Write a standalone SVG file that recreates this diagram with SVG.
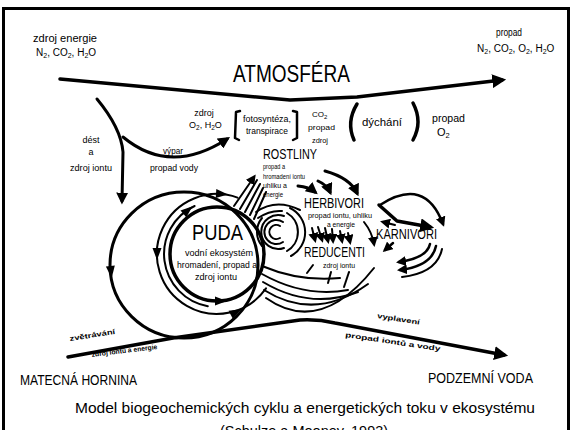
<svg xmlns="http://www.w3.org/2000/svg" width="572" height="430" viewBox="0 0 572 430">
<style>
text{font-family:"Liberation Sans",Arial,sans-serif;fill:#000}
.s7{font-size:7px;font-weight:bold}
.s8{font-size:8px}
.s9{font-size:9px}
.s10{font-size:10px}
.s11{font-size:11px}
.big{font-size:15px}
.lab{font-size:14px}
.ln{fill:none;stroke:#000;stroke-linecap:round;stroke-linejoin:round}
.w2{stroke-width:2}
.w25{stroke-width:2.5}
.w3{stroke-width:3}
.w4{stroke-width:3.5}
</style>
<defs>
<marker id="ah" viewBox="0 0 10 10" refX="7" refY="5" markerWidth="4" markerHeight="4" orient="auto" markerUnits="strokeWidth"><path d="M0,0 L10,5 L0,10 z"/></marker>
<marker id="ahs" viewBox="0 0 10 10" refX="7" refY="5" markerWidth="5" markerHeight="5" orient="auto" markerUnits="strokeWidth"><path d="M0,0 L10,5 L0,10 z"/></marker>
<path id="tri" d="M-6,-4.5 L6,0 L-6,4.5 z"/>
</defs>
<rect x="0" y="0" width="572" height="430" fill="#fff"/>
<rect x="3.5" y="8.5" width="565" height="445" fill="none" stroke="#000" stroke-width="3"/>

<g id="connectors">
  <!-- atmosphere boundary -->
  <path class="ln w4" d="M60,79 L290,100 L357,97 L502,80" marker-end="url(#ah)"/>
  <!-- rain -->
  <path class="ln w3" d="M97,99 Q121,128 123,152 L122,201" marker-end="url(#ah)"/>
  <!-- evaporation -->
  <path class="ln w3" d="M123,137 Q170,176 227,139" marker-end="url(#ah)"/>
  <!-- brackets -->
  <path class="ln w25" d="M240,111 L236,112 L235,138 L239,140"/>
  <path class="ln w25" d="M293,111 L297,112 L297,138 L293,140"/>
  <path class="ln w4" d="M357,104 Q346,122 354,140"/>
  <path class="ln w4" d="M413,103 Q423,122 413,140"/>
  <!-- soil loops -->
  <ellipse class="ln w3" cx="184" cy="265" rx="74" ry="73"/>
  <path class="ln w2" d="M237.5,197.6 A60,60 0 1 0 266,288.4"/>
  <path class="ln w2" d="M207.8,306.2 A53,53 0 0 1 194.6,206"/>
  <use href="#tri" transform="translate(111,272) rotate(84)"/>
  <use href="#tri" transform="translate(222,194) rotate(4)"/>
  <use href="#tri" transform="translate(236,312) rotate(-28)"/>
  <use href="#tri" transform="translate(157,254) rotate(90)"/>
  <use href="#tri" transform="translate(188,210) rotate(-40)"/>
  <use href="#tri" transform="translate(221,301) rotate(0)"/>
  <!-- swirl rings -->
  <path class="ln w2" d="M280,226 A7,7 0 1 0 280,238"/>
  <path class="ln w2" d="M283,222 A12,12 0 1 0 283,242"/>
  <path class="ln w2" d="M284,216 A17,17 0 1 0 284,248"/>
  <path class="ln w2" d="M287,213 A22,22 0 0 1 287,251"/>
  <path class="ln w2" d="M262,218 A22,22 0 0 0 262,246"/>
  <path class="ln w2" d="M290,208 A27,27 0 0 1 291,256"/>
  <path class="ln w2" d="M256,212 Q276,198 300,210"/>
  <path class="ln w2" d="M258,218 Q270,210 282,211"/>
  <!-- lower arcs -->
  <path class="ln w2" d="M262,266 Q300,282 340,278"/>
  <path class="ln w2" d="M262,274 Q305,298 348,290"/>
  <path class="ln w2" d="M263,282 Q310,310 358,292"/>
  <path class="ln w2" d="M264,290 Q315,322 368,284"/>
  <path class="ln w2" d="M266,298 Q320,336 374,268"/>
  <path class="ln w2" d="M313,265 L307,273"/>
  <path class="ln w2" d="M331,272 L328,283"/>
  <path class="ln w2" d="M349,272 L344,287"/>
  <!-- soil to plants -->
  <path class="ln w2" d="M234,206 L254,177" marker-end="url(#ahs)"/>
  <path class="ln w2" d="M240,209 L257,180"/>
  <path class="ln w2" d="M245,212 L260,184"/>
  <path class="ln w2" d="M250,215 L263,188"/>
  <path class="ln w2" d="M254,219 L266,192"/>
  <!-- plants to herbivores -->
  <path class="ln w3" d="M298,186 Q309,187 315,192" marker-end="url(#ah)"/>
  <path class="ln w3" d="M318,181 Q327,185 330,192" marker-end="url(#ah)"/>
  <path class="ln w3" d="M325,171 Q350,178 357,193" marker-end="url(#ah)"/>
  <!-- herbivores to reducers -->
  <path class="ln w2" d="M312,228 L315,240" marker-end="url(#ahs)"/>
  <path class="ln w2" d="M318,227 L322,240" marker-end="url(#ahs)"/>
  <path class="ln w2" d="M325,228 L328,241" marker-end="url(#ahs)"/>
  <path class="ln w2" d="M332,229 L333,241" marker-end="url(#ahs)"/>
  <path class="ln w2" d="M340,231 L342,241" marker-end="url(#ahs)"/>
  <path class="ln w2" d="M348,233 L350,242" marker-end="url(#ahs)"/>
  <path class="ln w2" d="M364,222 Q372,232 374,244" marker-end="url(#ahs)"/>
  <!-- carnivores -->
  <path class="ln w25" d="M380,205 Q425,176 443,224" marker-end="url(#ah)"/>
  <path class="ln w4" d="M379,205 L397,221 L430,227" marker-end="url(#ah)"/>
  <path class="ln w2" d="M395,225 L383,222" marker-end="url(#ahs)"/>
  <path class="ln w25" d="M393,243 L385,250" marker-end="url(#ah)"/>
  <path class="ln w25" d="M430,244 Q427,258 399,262" marker-end="url(#ah)"/>
  <path class="ln w25" d="M436,246 Q432,266 400,270" marker-end="url(#ah)"/>
  <path class="ln w2" d="M442,249 Q437,273 402,277"/>
  <!-- bedrock / groundwater line -->
  <path class="ln w4" d="M68,357 L173,338 L300,320 Q318,319 335,323 L504,355" marker-end="url(#ah)"/>
</g>

<g id="atmosfera">
  <text class="s10" x="33" y="42" textLength="64" lengthAdjust="spacingAndGlyphs">zdroj energie</text>
  <text class="s10" x="36" y="56">N<tspan font-size="7" dy="2">2</tspan><tspan dy="-2">, CO</tspan><tspan font-size="7" dy="2">2</tspan><tspan dy="-2">, H</tspan><tspan font-size="7" dy="2">2</tspan><tspan dy="-2">O</tspan></text>
  <text class="s10" x="496" y="36" textLength="26" lengthAdjust="spacingAndGlyphs">propad</text>
  <text class="s10" x="477" y="52">N<tspan font-size="7" dy="2">2</tspan><tspan dy="-2">, CO</tspan><tspan font-size="7" dy="2">2</tspan><tspan dy="-2">, O</tspan><tspan font-size="7" dy="2">2</tspan><tspan dy="-2">, H</tspan><tspan font-size="7" dy="2">2</tspan><tspan dy="-2">O</tspan></text>
  <text x="233" y="82" font-size="24" textLength="117" lengthAdjust="spacingAndGlyphs">ATMOSFÉRA</text>
  <text class="s9" x="91" y="143" text-anchor="middle">dést</text>
  <text class="s9" x="91" y="155" text-anchor="middle">a</text>
  <text class="s9" x="70" y="171" textLength="42" lengthAdjust="spacingAndGlyphs">zdroj iontu</text>
  <text class="s9" x="204" y="116" text-anchor="middle">zdroj</text>
  <text class="s9" x="189" y="128">O<tspan font-size="6.5" dy="2">2</tspan><tspan dy="-2">, H</tspan><tspan font-size="6.5" dy="2">2</tspan><tspan dy="-2">O</tspan></text>
  <text class="s9" x="163" y="154" textLength="20" lengthAdjust="spacingAndGlyphs">výpar</text>
  <text class="s9" x="150" y="171" textLength="48" lengthAdjust="spacingAndGlyphs">propad vody</text>
  <text class="s9" x="243" y="122" textLength="48" lengthAdjust="spacingAndGlyphs">fotosyntéza,</text>
  <text class="s9" x="246" y="134" textLength="42" lengthAdjust="spacingAndGlyphs">transpirace</text>
  <text class="s8" x="312" y="117">CO<tspan font-size="6" dy="2">2</tspan></text>
  <text class="s8" x="308" y="130" textLength="27" lengthAdjust="spacingAndGlyphs">propad</text>
  <text class="s8" x="312" y="143" textLength="16" lengthAdjust="spacingAndGlyphs">zdroj</text>
  <text class="s11" x="362" y="126" textLength="40" lengthAdjust="spacingAndGlyphs">dýchání</text>
  <text class="s11" x="432" y="122" textLength="33" lengthAdjust="spacingAndGlyphs">propad</text>
  <text class="s11" x="437" y="136">O<tspan font-size="7.5" dy="2">2</tspan></text>
</g>

<g id="rostliny">
  <text class="big" x="263" y="158.5" textLength="54" lengthAdjust="spacingAndGlyphs">ROSTLINY</text>
  <text class="s8" x="263" y="169" textLength="22" lengthAdjust="spacingAndGlyphs">propad a</text>
  <text class="s8" x="263" y="178.5" textLength="42" lengthAdjust="spacingAndGlyphs">hromadení iontu</text>
  <text class="s8" x="263" y="188" textLength="24" lengthAdjust="spacingAndGlyphs">uhliku a</text>
  <text class="s8" x="263" y="197" textLength="20" lengthAdjust="spacingAndGlyphs">energie</text>
</g>

<g id="herbivori">
  <text class="big" x="304" y="208" textLength="60" lengthAdjust="spacingAndGlyphs">HERBIVORI</text>
  <text class="s8" x="308" y="218" textLength="64" lengthAdjust="spacingAndGlyphs">propad iontu, uhliku</text>
  <text class="s8" x="327" y="227" textLength="28" lengthAdjust="spacingAndGlyphs">a energie</text>
</g>

<g id="karnivori">
  <text class="big" x="376" y="239" textLength="61" lengthAdjust="spacingAndGlyphs">KARNIVORI</text>
</g>

<g id="reducenti">
  <text class="big" x="304" y="257" textLength="61" lengthAdjust="spacingAndGlyphs">REDUCENTI</text>
  <text class="s8" x="323" y="268" textLength="32" lengthAdjust="spacingAndGlyphs">zdroj iontu</text>
</g>

<g id="puda">
  <circle cx="217" cy="254" r="47" fill="none" stroke="#000" stroke-width="3.5"/>
  <text x="192" y="240" font-size="22" textLength="51" lengthAdjust="spacingAndGlyphs">PUDA</text>
  <text class="s9" x="185" y="256" textLength="68" lengthAdjust="spacingAndGlyphs">vodní ekosystém</text>
  <text class="s9" x="177" y="268" textLength="80" lengthAdjust="spacingAndGlyphs">hromadení, propad a</text>
  <text class="s9" x="195" y="280" textLength="42" lengthAdjust="spacingAndGlyphs">zdroj iontu</text>
</g>

<g id="matecna-hornina">
  <text class="lab" x="20" y="385" textLength="117" lengthAdjust="spacingAndGlyphs">MATECNÁ HORNINA</text>
  <text class="s7" x="70" y="341" transform="rotate(-9 70 341)" textLength="46" lengthAdjust="spacingAndGlyphs">zvětrávání</text>
  <text class="s7" x="92" y="357" transform="rotate(-7 92 357)" textLength="66" lengthAdjust="spacingAndGlyphs">zdroj iontů a energie</text>
</g>

<g id="podzemni-voda">
  <text class="lab" x="428" y="383" textLength="105" lengthAdjust="spacingAndGlyphs">PODZEMNÍ VODA</text>
  <text class="s7" x="377" y="318" transform="rotate(9 377 318)" textLength="43" lengthAdjust="spacingAndGlyphs">vyplavení</text>
  <text class="s7" x="345" y="337" transform="rotate(8.5 345 337)" textLength="96" lengthAdjust="spacingAndGlyphs">propad iontů a vody</text>
</g>

<g id="caption">
  <text x="75" y="413" font-size="14.5" textLength="460" lengthAdjust="spacingAndGlyphs">Model biogeochemických  cyklu a energetických  toku v ekosystému</text>
  <text x="304" y="436" font-size="14.5" text-anchor="middle">(Schulze a Mooney, 1993)</text>
</g>
</svg>
